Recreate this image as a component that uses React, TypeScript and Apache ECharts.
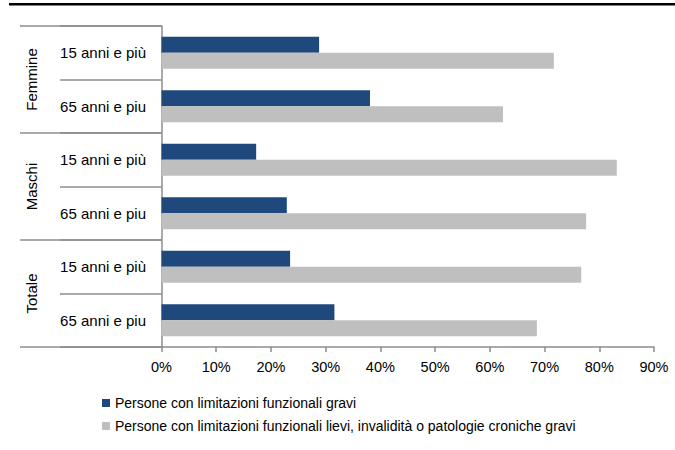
import React, { useEffect, useRef } from "react";
import * as echarts from "echarts";

const categories = [
  "15 anni e più",
  "65 anni e piu",
  "15 anni e più",
  "65 anni e piu",
  "15 anni e più",
  "65 anni e piu",
];
const groups = ["Femmine", "Maschi", "Totale"];
const seriesNames = [
  "Persone con limitazioni funzionali gravi",
  "Persone con limitazioni funzionali lievi, invalidità o patologie croniche gravi",
];
const gravi = [28.8, 38.1, 17.3, 22.9, 23.5, 31.6];
const lievi = [71.7, 62.4, 83.2, 77.6, 76.7, 68.6];
const xTicks = { min: 0, max: 90, interval: 10 };

const FONT = "'Liberation Sans', Arial, sans-serif";

export default function App() {
  const ref = useRef<HTMLDivElement>(null);
  useEffect(() => {
    if (!ref.current) return;
    const chart = echarts.init(ref.current, undefined, { renderer: "svg" });
    chart.setOption({
      animation: false,
      backgroundColor: "#fff",
      textStyle: { fontFamily: FONT },
      grid: { left: 161.5, right: 21, top: 26, bottom: 103, containLabel: false },
      xAxis: {
        type: "value",
        min: xTicks.min,
        max: xTicks.max,
        interval: xTicks.interval,
        axisLine: { show: true, lineStyle: { color: "#8c8c8c", width: 1.5 } },
        axisTick: { show: true, length: 5, lineStyle: { color: "#8c8c8c", width: 1.5 } },
        splitLine: { show: false },
        axisLabel: {
          color: "#000",
          fontSize: 14.5,
          fontFamily: FONT,
          margin: 12,
          formatter: "{value}%",
        },
      },
      yAxis: [
        {
          type: "category",
          data: categories,
          inverse: true,
          position: "left",
          axisLine: { show: true, lineStyle: { color: "#8c8c8c", width: 1.5 } },
          axisTick: { show: true, length: 101.5, lineStyle: { color: "#8c8c8c", width: 1.5 } },
          axisLabel: { color: "#000", fontSize: 15, fontFamily: FONT, margin: 15.5 },
        },
        {
          type: "category",
          data: groups,
          inverse: true,
          position: "left",
          offset: 0,
          axisLine: { show: false },
          axisTick: { show: true, length: 141.5, lineStyle: { color: "#8c8c8c", width: 1.5 } },
          axisLabel: {
            color: "#000",
            fontSize: 15,
            fontFamily: FONT,
            rotate: 90,
            margin: 123,
          },
        },
      ],
      legend: {
        orient: "vertical",
        left: 102,
        top: 396,
        padding: 0,
        itemWidth: 8,
        itemHeight: 8,
        itemGap: 9,
        icon: "rect",
        textStyle: { color: "#000", fontSize: 14, fontFamily: FONT, lineHeight: 14 },
        data: seriesNames,
      },
      graphic: [
        {
          type: "rect",
          shape: { x: 9, y: 3, width: 666, height: 2.5 },
          style: { fill: "#000" },
        },
      ],
      series: [
        {
          name: seriesNames[0],
          type: "bar",
          data: gravi,
          barWidth: 16,
          barGap: "0%",
          itemStyle: { color: "#1F497D" },
        },
        {
          name: seriesNames[1],
          type: "bar",
          data: lievi,
          barWidth: 16,
          barGap: "0%",
          itemStyle: { color: "#BFBFBF" },
        },
      ],
    });
    return () => chart.dispose();
  }, []);
  return (
    <div
      ref={ref}
      style={{ position: "absolute", left: 0, top: 0, width: 675, height: 450 }}
    />
  );
}
